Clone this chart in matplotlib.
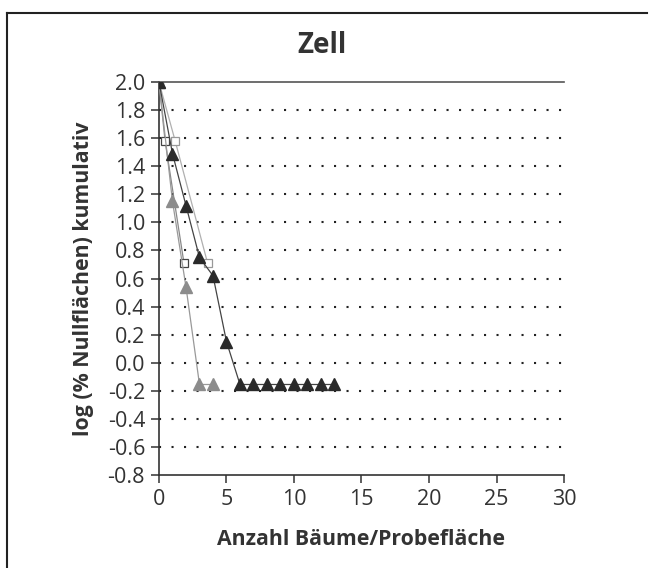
import matplotlib.pyplot as plt
from matplotlib.lines import Line2D

plt.rcParams['font.family'] = ['Open Sans', 'DejaVu Sans']

# Daten
dark_x = [0, 1, 2, 3, 4, 5, 6, 7, 8, 9, 10, 11, 12, 13]
dark_y = [2.0, 1.49, 1.12, 0.75, 0.62, 0.15, -0.155, -0.155, -0.155, -0.155, -0.155, -0.155, -0.155, -0.155]

grey_x = [0, 1, 2, 3, 4]
grey_y = [2.0, 1.15, 0.54, -0.155, -0.155]

sq_x = [0, 0.45, 1.85]
sq_y = [2.0, 1.58, 0.71]

sq2_x = [0, 1.2, 3.6]
sq2_y = [2.0, 1.58, 0.71]

xticks = [0, 5, 10, 15, 20, 25, 30]
yticks = [-0.8, -0.6, -0.4, -0.2, 0.0, 0.2, 0.4, 0.6, 0.8, 1.0, 1.2, 1.4, 1.6, 1.8, 2.0]

fig = plt.figure(figsize=(6.54, 5.68), dpi=100)
ax = fig.add_axes([0.2431, 0.1637, 0.6193, 0.6919])

# Rahmen oben und links
fig.add_artist(Line2D([0.011, 0.011], [0.0, 0.977], color='#222222', lw=1.5))
fig.add_artist(Line2D([0.011, 0.99], [0.977, 0.977], color='#222222', lw=1.5))

for y in yticks[1:-1]:
    ax.axhline(y, color='#222222', lw=1.5, linestyle=(0, (1, 5)), zorder=1)

ax.plot(sq2_x, sq2_y, color='#b0b0b0', lw=0.9, marker='s', ms=6,
        mfc='white', mec='#999999', mew=0.9, zorder=3)
ax.plot(sq_x, sq_y, color='#888888', lw=0.9, marker='s', ms=6,
        mfc='white', mec='#444444', mew=0.9, zorder=3)
ax.plot(grey_x, grey_y, color='#999999', lw=0.9, marker='^', ms=8.5,
        mfc='#8c8c8c', mec='#8c8c8c', zorder=4)
ax.plot(dark_x, dark_y, color='#444444', lw=0.9, marker='^', ms=8.5,
        mfc='#2a2a2a', mec='#2a2a2a', zorder=5)

ax.set_xlim(0, 30)
ax.set_ylim(-0.8, 2.0)
ax.set_xticks(xticks)
ax.set_yticks(yticks)
ax.set_yticklabels([f'{v:.1f}' for v in yticks])

for s in ['left', 'bottom', 'top']:
    ax.spines[s].set_color('#333333')
    ax.spines[s].set_linewidth(1.2)
ax.spines['right'].set_visible(False)
ax.spines['top'].set_color('#555555')

ax.tick_params(axis='both', direction='out', length=6, width=1.1,
               color='#333333', labelsize=15.5, labelcolor='#333333')
ax.tick_params(axis='y', pad=4)
ax.tick_params(axis='x', pad=4)

fig.text(0.492, 0.92, 'Zell', fontsize=20, fontweight='bold', color='#333333',
         ha='center', va='center')
ax.set_xlabel('Anzahl Bäume/Probefläche', fontsize=15.3, fontweight='bold',
              color='#333333', labelpad=14)
ax.set_ylabel('log (% Nullflächen) kumulativ', fontsize=15.3, fontweight='bold',
              color='#333333', labelpad=10)

fig.savefig('out.png', dpi=100)
